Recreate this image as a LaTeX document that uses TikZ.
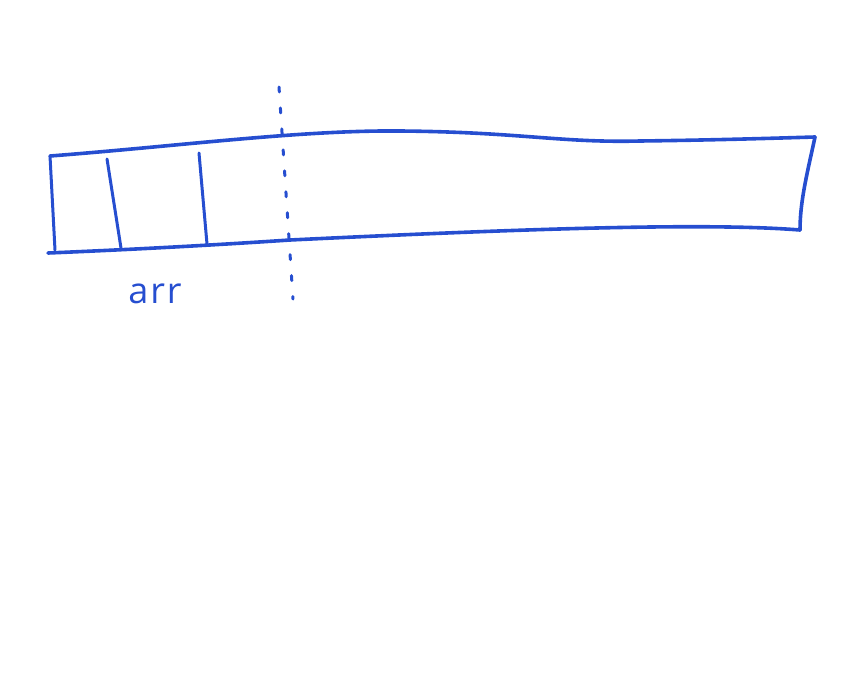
\documentclass[tikz,border=0pt]{standalone}
\usepackage{fontspec}
\setsansfont{Open Sans}
\definecolor{pen}{RGB}{38,78,208}
\begin{document}
\begin{tikzpicture}[x=1pt,y=-1pt,
  stroke/.style={draw=pen,line width=3.6pt,line cap=round,line join=round},
  thin stroke/.style={draw=pen,line width=3pt,line cap=round},
  cut/.style={draw=pen,line width=3pt,line cap=round,dash pattern=on 5pt off 16pt},
  lbl/.style={text=pen,font=\sffamily\fontsize{36}{36}\selectfont,inner sep=0pt}]
\useasboundingbox (0,0) rectangle (860,675);
\coordinate (tl) at (50,156);
\coordinate (tr) at (815,137);
\coordinate (br) at (800,230);
\coordinate (bl) at (48,253);
% top edge
\draw[stroke] (tl) .. controls (180,146) and (300,130) .. (400,131)
  .. controls (520,132) and (560,143) .. (640,141)
  .. controls (720,140) and (780,138) .. (tr);
% right edge
\draw[stroke] (tr) .. controls (808,170) and (800,200) .. (br);
% bottom edge
\draw[stroke] (br) .. controls (700,222) and (500,230) .. (290,240)
  .. controls (200,246) and (120,250) .. (bl);
% left edge
\draw[thin stroke] (tl) -- (55,250);
% dividers
\coordinate (d1t) at (107,159);
\coordinate (d1b) at (121,248);
\coordinate (d2t) at (199,153);
\coordinate (d2b) at (207,244);
\draw[thin stroke] (d1t) -- (d1b);
\draw[thin stroke] (d2t) -- (d2b);
% dashed cut line
\coordinate (ct) at (279,87);
\coordinate (cb) at (293,299);
\draw[cut] (ct) -- (cb);
\node[lbl] (arr) at (155,294) {a\kern2pt r\kern2pt r};
\end{tikzpicture}
\end{document}
